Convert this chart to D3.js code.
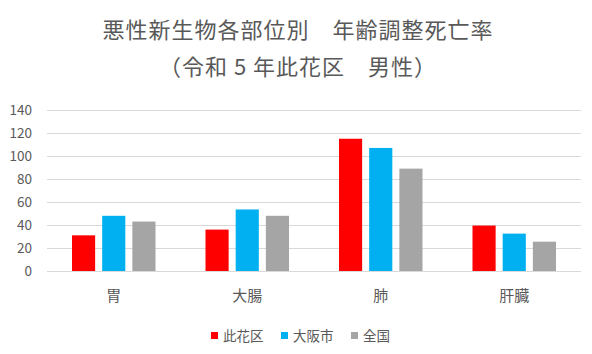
<!DOCTYPE html>
<html>
<head>
<meta charset="utf-8">
<script src="https://cdn.jsdelivr.net/npm/d3@7"></script>
<style>
  body { margin: 0; background: #fff; }
  svg text { font-family: "Noto Sans CJK JP", "Noto Sans", sans-serif; fill: #595959; }
  .grid line { stroke: #d9d9d9; stroke-width: 1; }
  .grid .domain { display: none; }
</style>
</head>
<body>
<svg width="592" height="354"></svg>
<script>
const categories = ["胃", "大腸", "肺", "肝臓"]
const seriesNames = ["此花区", "大阪市", "全国"]
const konohana = [31, 36, 115, 39.5]
const osakaCity = [48, 53.5, 107, 32.5]
const national = [43, 48, 89, 25.5]
const yTicks = [0, 20, 40, 60, 80, 100, 120, 140]
const titleLines = ["悪性新生物各部位別　年齢調整死亡率", "（令和 5 年此花区　男性）"]

const colors = d3.scaleOrdinal().domain(seriesNames).range(["#ff0000", "#00b0f0", "#a5a5a5"])

const svg = d3.select("svg"),
      margin = {top: 110, right: 11, bottom: 83, left: 47},
      width = svg.attr("width") - margin.left - margin.right,
      height = svg.attr("height") - margin.top - margin.bottom,
      g = svg.append("g").attr("transform", "translate(" + margin.left + "," + margin.top + ")")

const rows = categories.map((c, i) => ({
  cat: c,
  values: [konohana[i], osakaCity[i], national[i]].map((v, j) => ({name: seriesNames[j], value: v}))
}))

const x0 = d3.scaleBand().domain(categories).range([0, width]).padding(0),
      x1 = d3.scaleBand().domain(seriesNames).range([25, x0.bandwidth() - 25]).paddingInner(7 / 30),
      y = d3.scaleLinear().domain([0, 140]).range([height, 0])

// title
svg.selectAll(".title")
  .data(titleLines)
  .enter().append("text")
    .attr("class", "title")
    .attr("x", 298)
    .attr("y", (d, i) => 38 + i * 37)
    .attr("text-anchor", "middle")
    .style("font-size", "22px")
    .style("letter-spacing", "1px")
    .text(d => d)

// gridlines
g.append("g")
  .attr("class", "grid")
  .call(d3.axisLeft(y).tickValues(yTicks).tickSize(-width).tickFormat(""))

// y labels
g.selectAll(".ylabel")
  .data(yTicks)
  .enter().append("text")
    .attr("x", -15)
    .attr("y", d => y(d))
    .attr("dy", "0.36em")
    .attr("text-anchor", "end")
    .style("font-size", "13.5px")
    .text(d => d)

let groups = g.selectAll(".cat")
  .data(rows)
  .enter().append("g")
    .attr("transform", d => "translate(" + x0(d.cat) + ",0)")

groups.selectAll("rect")
  .data(d => d.values)
  .enter().append("rect")
    .attr("x", d => x1(d.name))
    .attr("width", x1.bandwidth())
    .attr("y", d => y(d.value))
    .attr("height", d => y(0) - y(d.value))
    .style("fill", d => colors(d.name))

// category labels
g.selectAll(".xlabel")
  .data(categories)
  .enter().append("text")
    .attr("x", d => x0(d) + x0.bandwidth() / 2)
    .attr("y", height + 30)
    .attr("text-anchor", "middle")
    .style("font-size", "15px")
    .text(d => d)

// legend
const legendX = [211, 281, 351]
let legend = svg.selectAll(".legend")
  .data(seriesNames)
  .enter().append("g")
    .attr("transform", (d, i) => "translate(" + legendX[i] + ",332)")

legend.append("rect")
  .attr("width", 7)
  .attr("height", 7)
  .style("fill", d => colors(d))

legend.append("text")
  .attr("x", 12)
  .attr("y", 4)
  .attr("dy", "0.36em")
  .style("font-size", "13.5px")
  .text(d => d)
</script>
</body>
</html>
